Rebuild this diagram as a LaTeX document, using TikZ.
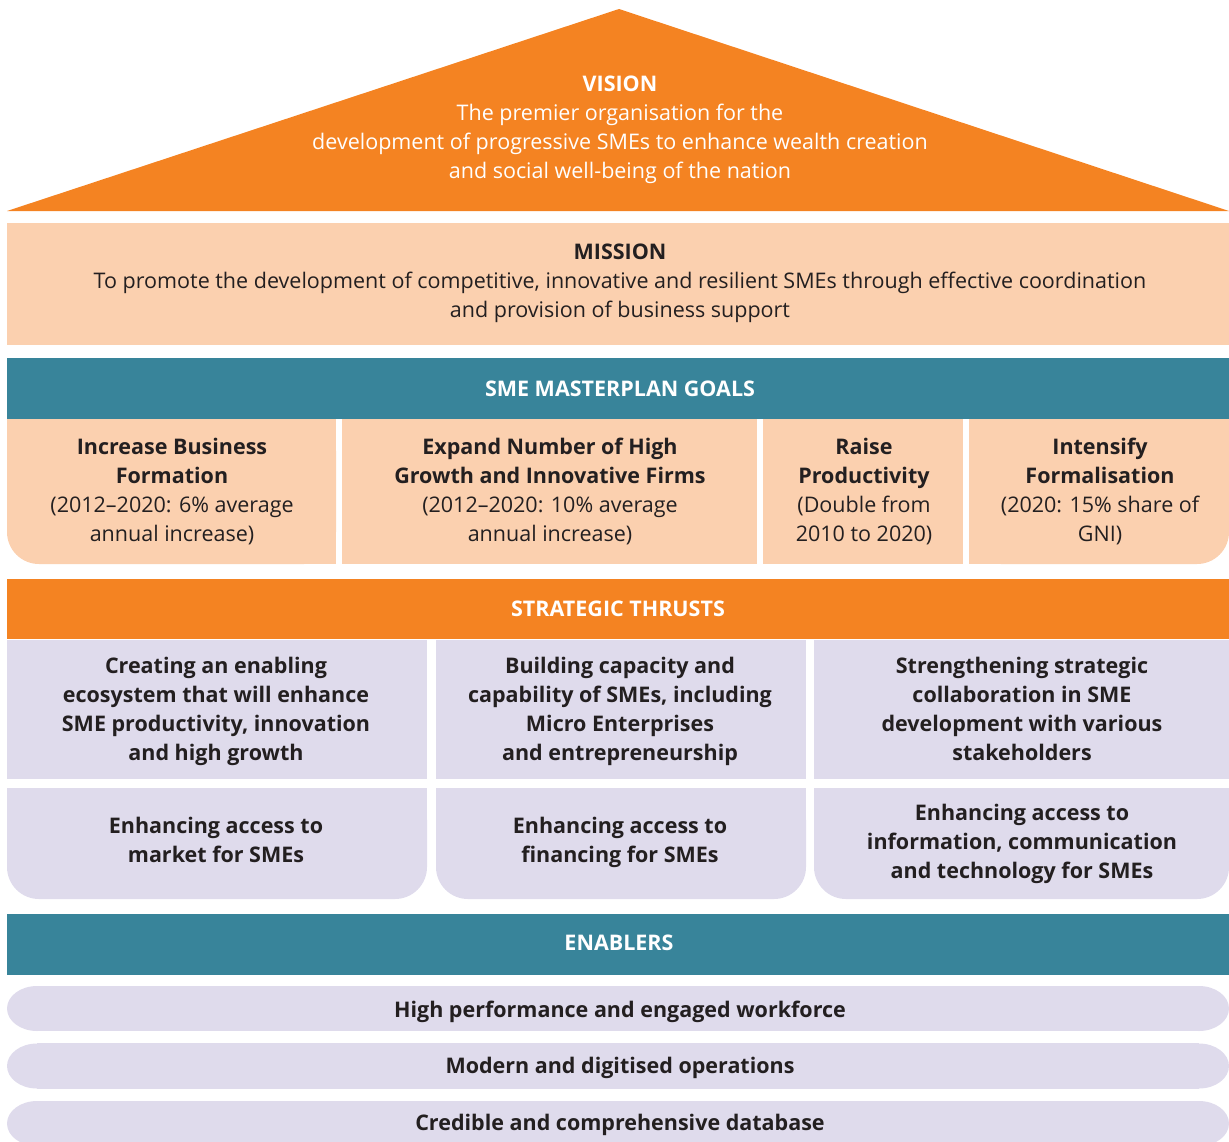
\documentclass[tikz,border=0pt]{standalone}
\usepackage{fontspec}
\setmainfont{Open Sans}
\definecolor{vorange}{HTML}{F48322}
\definecolor{peach}{HTML}{FBD0AF}
\definecolor{hdrteal}{HTML}{38849A}
\definecolor{lav}{HTML}{DFDBEC}
\definecolor{ink}{HTML}{231F20}
\newcommand{\fsz}{\fontsize{21.5}{29}\selectfont}
\tikzset{
  txt/.style={align=center, font=\fsz, text=ink, inner sep=0pt},
  btxt/.style={txt, font=\fsz\bfseries},
  hdr/.style={txt, text=white, font=\fsz\bfseries},
  pill/.style={fill=lav},
}
\begin{document}
\begin{tikzpicture}[x=1pt,y=-1pt]
\useasboundingbox (0,0) rectangle (1229,1141);
% Vision
\fill[vorange] (7,211) -- (619,9) -- (1229,211) -- cycle;
\node[txt,text=white] (vision) at (620,129.5) {\textbf{VISION}\\The premier organisation for the\\development of progressive SMEs to enhance wealth creation\\and social well-being of the nation};
% Mission
\fill[peach] (7,223) rectangle (1229,345);
\node[txt] (mission) at (620,283) {\textbf{MISSION}\\To promote the development of competitive, innovative and resilient SMEs through effective coordination\\and provision of business support};
% Goals
\fill[hdrteal] (7,358) rectangle (1229,419);
\node[hdr] (goalshdr) at (620,389) {SME MASTERPLAN GOALS};
\fill[peach,rounded corners=32pt] (7,419) rectangle (336,564);
\fill[peach] (7,419) rectangle (336,530);
\fill[peach] (45,419) rectangle (336,564);
\fill[peach] (342,419) rectangle (757,564);
\fill[peach] (763,419) rectangle (963,564);
\fill[peach,rounded corners=32pt] (969,419) rectangle (1229,564);
\fill[peach] (969,419) rectangle (1229,530);
\fill[peach] (969,419) rectangle (1190,564);
\node[txt] (g1) at (172,492) {\textbf{Increase Business}\\\textbf{Formation}\\(2012–2020: 6\% average\\annual increase)};
\node[txt] (g2) at (550,491) {\textbf{Expand Number of High}\\\textbf{Growth and Innovative Firms}\\(2012–2020: 10\% average\\annual increase)};
\node[txt] (g3) at (864,492) {\textbf{Raise}\\\textbf{Productivity}\\(Double from\\2010 to 2020)};
\node[txt] (g4) at (1100,491) {\textbf{Intensify}\\\textbf{Formalisation}\\(2020: 15\% share of\\GNI)};
% Strategic thrusts
\fill[vorange] (7,579) rectangle (1229,639);
\node[hdr] (thrustshdr) at (618,609) {STRATEGIC THRUSTS};
\fill[lav] (7,640) rectangle (427,779);
\fill[lav] (436,640) rectangle (806,779);
\fill[lav] (814,640) rectangle (1229,779);
\foreach \xa/\xb in {7/427, 436/806, 814/1229}{
  \fill[lav,rounded corners=32pt] (\xa,788) rectangle (\xb,899);
  \fill[lav] (\xa,788) rectangle (\xb,860);
}
\node[btxt] (t1) at (216,711) {Creating an enabling\\ecosystem that will enhance\\SME productivity, innovation\\and high growth};
\node[btxt] (t2) at (620,711) {Building capacity and\\capability of SMEs, including\\Micro Enterprises\\and entrepreneurship};
\node[btxt] (t3) at (1022,709) {Strengthening strategic\\collaboration in SME\\development with various\\stakeholders};
\node[btxt] (t4) at (216,840) {Enhancing access to\\market for SMEs};
\node[btxt] (t5) at (620,842) {Enhancing access to\\financing for SMEs};
\node[btxt] (t6) at (1022,844) {Enhancing access to\\information, communication\\and technology for SMEs};
% Enablers
\fill[hdrteal] (7,914) rectangle (1229,975);
\node[hdr] (enablershdr) at (619,943) {ENABLERS};
\foreach \ya/\yb in {986/1031, 1043/1089, 1101/1146}{
  \fill[pill] (37,\ya) rectangle (1199,\yb);
  \fill[pill] (37,{(\ya+\yb)/2}) ellipse [x radius=30pt, y radius=22.5pt];
  \fill[pill] (1199,{(\ya+\yb)/2}) ellipse [x radius=30pt, y radius=22.5pt];
}
\node[btxt] (e1) at (620,1012) {High performance and engaged workforce};
\node[btxt] (e2) at (620,1068) {Modern and digitised operations};
\node[btxt] (e3) at (620,1125) {Credible and comprehensive database};
\end{tikzpicture}
\end{document}
